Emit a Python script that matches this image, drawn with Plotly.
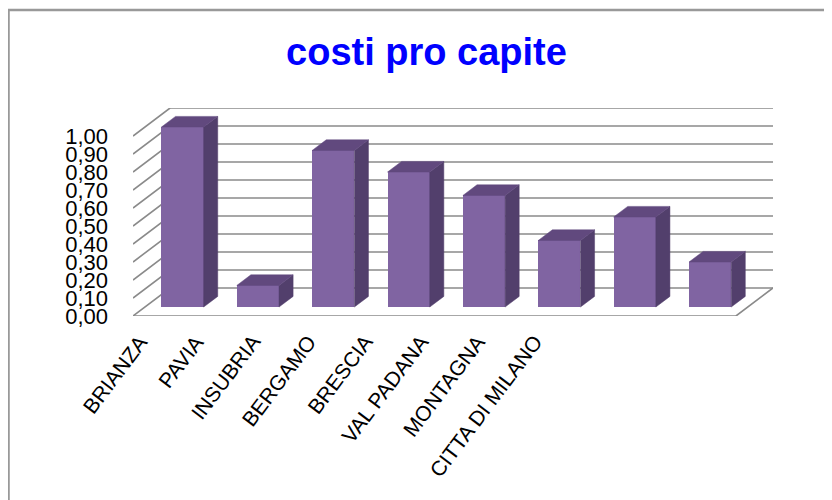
import plotly.graph_objects as go

# ---- data ----
categories = ["BRIANZA", "PAVIA", "INSUBRIA", "BERGAMO", "BRESCIA",
              "VAL PADANA", "MONTAGNA", "CITTA DI MILANO"]
costi = [1.00, 0.12, 0.87, 0.75, 0.62, 0.37, 0.50, 0.25]
tick_values = [0.0, 0.1, 0.2, 0.3, 0.4, 0.5, 0.6, 0.7, 0.8, 0.9, 1.0]
tick_labels = ["0,00", "0,10", "0,20", "0,30", "0,40", "0,50",
               "0,60", "0,70", "0,80", "0,90", "1,00"]

# ---- 3D-look styling constants ----
WALL_DX = 0.4917      # depth offset of back wall (x units)
WALL_DY = 0.1556      # depth offset of back wall (value units)
F1, F2 = 0.32, 0.70   # bar front / back depth fractions
BAR_W = 0.56
LABEL_START = -0.221
LABEL_STEP = 0.748
FRONT = "#8064A2"
SIDE = "#523F6C"
TOP = "#61497E"
GRID = "#8a8a8a"
FONT = "Arial, Liberation Sans, sans-serif"

n = len(categories)
x_left, x_right = -0.5, n - 0.5

fig = go.Figure()

# front faces (bars)
bx = [i + F1 * WALL_DX for i in range(n)]
base = F1 * WALL_DY
fig.add_trace(go.Bar(x=bx, y=costi, base=[base] * n, width=BAR_W,
                     marker=dict(color=FRONT, line=dict(width=0)),
                     showlegend=False, hoverinfo="skip"))

dd = F2 - F1
for xc, v in zip(bx, costi):
    xl, xr = xc - BAR_W / 2, xc + BAR_W / 2
    top = base + v
    # side face
    fig.add_trace(go.Scatter(
        x=[xr, xr + dd * WALL_DX, xr + dd * WALL_DX, xr, xr],
        y=[base, base + dd * WALL_DY, top + dd * WALL_DY, top, base],
        mode="lines", fill="toself", fillcolor=SIDE,
        line=dict(color=SIDE, width=0.5), showlegend=False, hoverinfo="skip"))
    # top face
    fig.add_trace(go.Scatter(
        x=[xl, xr, xr + dd * WALL_DX, xl + dd * WALL_DX, xl],
        y=[top, top, top + dd * WALL_DY, top + dd * WALL_DY, top],
        mode="lines", fill="toself", fillcolor=TOP,
        line=dict(color=TOP, width=0.5), showlegend=False, hoverinfo="skip"))

shapes = []
for v in tick_values:
    path = (f"M {x_left},{v} L {x_left + WALL_DX},{v + WALL_DY} "
            f"L {x_right + WALL_DX},{v + WALL_DY}")
    shapes.append(dict(type="path", path=path, xref="x", yref="y",
                       line=dict(color=GRID, width=1.6), layer="below"))
shapes.append(dict(type="path",
                   path=f"M {x_left},0 L {x_right},0 L {x_right + WALL_DX},{WALL_DY}",
                   xref="x", yref="y", line=dict(color=GRID, width=1.6), layer="below"))
# chart border
shapes.append(dict(type="rect", xref="paper", yref="paper",
                   x0=-0.1945, y0=-2, x1=2, y1=1.471,
                   line=dict(color="#999999", width=2.5), layer="below"))

# category labels (rotated)
annotations = []
for i, name in enumerate(categories):
    annotations.append(dict(
        text=name, x=LABEL_START + i * LABEL_STEP, xref="x",
        y=0, yref="paper", yshift=-12, xanchor="right", yanchor="top",
        textangle=-53, showarrow=False,
        font=dict(family=FONT, size=21, color="black")))

fig.update_layout(
    width=832, height=500, autosize=False,
    margin=dict(l=125, r=67, t=100, b=192),
    paper_bgcolor="white", plot_bgcolor="rgba(0,0,0,0)",
    shapes=shapes, annotations=annotations,
    title=dict(text="costi pro capite", x=0.503, xanchor="center",
               y=0.912, yanchor="middle", yref="container",
               font=dict(family=FONT, size=38, color="#0000FF", weight="bold")),
    xaxis=dict(range=[x_left, x_right + WALL_DX], showgrid=False, zeroline=False,
               showline=False, ticks="", showticklabels=False, automargin=False),
    yaxis=dict(range=[0, 1 + WALL_DY], showgrid=False, zeroline=False,
               showline=False, ticks="", tickmode="array", tickvals=tick_values,
               ticktext=tick_labels, ticklabelstandoff=24, automargin=False,
               tickfont=dict(family=FONT, size=22, color="black")),
    bargap=0,
)

fig.write_html("out.html")
